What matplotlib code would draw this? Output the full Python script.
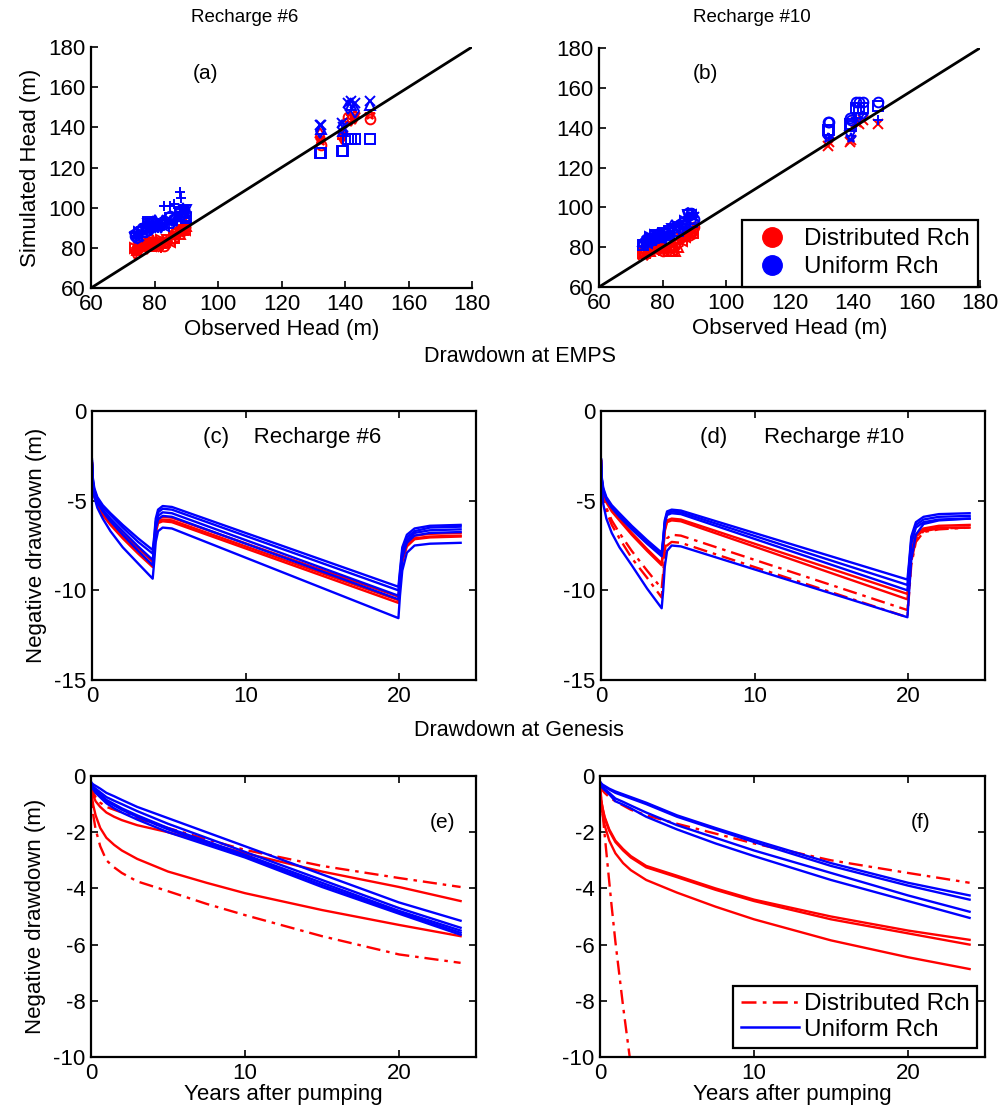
import numpy as np
import matplotlib
matplotlib.use("Agg")
import matplotlib.pyplot as plt
from matplotlib.lines import Line2D

plt.rcParams['font.family'] = ['Liberation Sans', 'DejaVu Sans']
plt.rcParams['font.size'] = 16
plt.rcParams['axes.unicode_minus'] = False

# ---- scatter data (observed vs simulated head) ----
obs_lo = [74, 74.5, 75, 76, 77, 77.5, 78, 78.5, 79, 79.5, 80, 81, 82, 83, 84, 85, 86, 87, 88, 89, 89.5, 90]
obs_hi = [132, 132.5, 139, 139.5, 141, 142, 143, 148]

a_red_lo1 = [79, 80, 79.5, 80, 81, 80.5, 81, 82, 81, 82, 82, 81, 80, 81, 82, 84, 85, 86, 87, 88, 89, 90]
a_red_lo2 = [78, 79, 80, 81, 80, 82, 83, 82, 83, 84, 83, 82, 82, 83, 84, 83, 86, 88, 89, 90, 91, 92]
a_red_lo3 = [80, 79, 81, 82, 82, 81, 83, 81, 84, 83, 81, 83, 84, 82, 83, 85, 87, 87, 88, 89, 90, 91]
a_blue_lo1 = [86, 87, 86, 88, 90, 91, 92, 93, 92, 93, 91, 90, 92, 93, 94, 95, 94, 96, 97, 98, 99, 97]
a_blue_lo2 = [85, 86, 88, 89, 88, 90, 89, 91, 90, 92, 93, 92, 90, 91, 93, 92, 95, 94, 96, 100, 98, 95]
a_blue_lo3 = [87, 85, 87, 90, 91, 89, 93, 90, 91, 90, 92, 93, 91, 94, 92, 96, 93, 95, 98, 97, 96, 99]
a_plus_obs = [83, 85, 86, 88, 88.5]
a_plus_sim = [101, 101, 102, 108, 105]
a_red_hi1 = [134, 131, 135, 136, 145, 144, 146, 144]
a_red_hi2 = [136, 133, 134, 137, 143, 146, 145, 146]
a_blue_hi1 = [141, 141, 142, 140, 152, 153, 152, 153]
a_blue_hi2 = [138, 139, 140, 138, 150, 151, 148, 151]
a_blue_hi3 = [127, 127, 128, 128, 134, 134, 134, 134]

b_red_lo1 = [76, 77, 77, 78, 78, 79, 79, 80, 79, 79, 78, 78, 79, 78, 79, 80, 84, 85, 86, 87, 88, 89]
b_red_lo2 = [78, 77, 79, 79, 80, 80, 80, 81, 80, 80, 80, 79, 80, 79, 80, 82, 85, 86, 88, 88, 87, 88]
b_red_lo3 = [77, 78, 78, 77, 79, 78, 81, 79, 78, 80, 79, 80, 78, 80, 78, 81, 83, 84, 87, 86, 89, 90]
b_blue_lo1 = [82, 82, 83, 84, 84, 85, 86, 86, 85, 86, 85, 84, 86, 88, 89, 88, 90, 92, 96, 96, 95, 92]
b_blue_lo2 = [81, 83, 84, 83, 85, 86, 84, 87, 86, 85, 86, 87, 88, 90, 88, 90, 91, 93, 97, 94, 97, 94]
b_blue_lo3 = [83, 81, 82, 85, 83, 84, 85, 85, 87, 84, 87, 86, 87, 89, 90, 89, 92, 91, 95, 97, 96, 95]
b_red_hi = [131, 133, 133, 134, 143, 142, 144, 142]
b_blue_star = [135, 135, 136, 135, 145, 145, 146, 144]
b_blue_sq = [139, 139, 142, 141, 150, 150, 150, 151]
b_blue_o = [143, 143, 145, 144, 153, 153, 153, 153]

# ---- drawdown at EMPS ----
tk = [0, 0.05, 0.15, 0.35, 0.7, 1.2, 2, 3, 3.95, 4.05, 4.15, 4.3, 4.6, 5.2,
      19.95, 20.05, 20.2, 20.5, 21, 22, 24]
c_blue = [
    [-2.7, -3.7, -4.3, -4.8, -5.25, -5.7, -6.35, -7.1, -7.75, -7.0, -6.0, -5.5, -5.3, -5.35, -9.8, -8.9, -7.6, -6.9, -6.55, -6.4, -6.35],
    [-2.8, -3.8, -4.4, -4.9, -5.35, -5.8, -6.5, -7.3, -7.95, -7.2, -6.2, -5.65, -5.45, -5.5, -10.0, -9.1, -7.8, -7.05, -6.7, -6.5, -6.45],
    [-2.9, -3.9, -4.5, -5.0, -5.5, -6.0, -6.7, -7.55, -8.3, -7.5, -6.4, -5.85, -5.65, -5.7, -10.3, -9.3, -8.0, -7.2, -6.8, -6.65, -6.6],
    [-3.0, -4.0, -4.6, -5.1, -5.6, -6.15, -6.9, -7.8, -8.6, -7.7, -6.6, -6.05, -5.85, -5.9, -10.5, -9.5, -8.2, -7.35, -6.95, -6.8, -6.75],
    [-3.0, -4.1, -4.8, -5.4, -6.0, -6.7, -7.6, -8.5, -9.35, -8.4, -7.3, -6.7, -6.5, -6.55, -11.55, -10.3, -8.9, -7.9, -7.5, -7.4, -7.35],
]
c_red = [
    [-2.9, -4.0, -4.6, -5.1, -5.6, -6.1, -6.85, -7.65, -8.4, -7.6, -6.5, -6.0, -5.9, -5.95, -10.35, -9.4, -8.1, -7.3, -6.95, -6.85, -6.8],
    [-2.9, -4.05, -4.7, -5.2, -5.7, -6.25, -7.0, -7.85, -8.6, -7.8, -6.7, -6.15, -6.05, -6.1, -10.55, -9.6, -8.3, -7.45, -7.1, -7.0, -6.95],
    [-3.0, -4.1, -4.75, -5.25, -5.8, -6.35, -7.1, -7.95, -8.7, -7.9, -6.8, -6.25, -6.15, -6.2, -10.7, -9.7, -8.4, -7.55, -7.15, -7.05, -7.0],
]
d_blue = [
    [-2.7, -3.7, -4.3, -4.8, -5.25, -5.7, -6.4, -7.2, -7.9, -7.1, -6.1, -5.6, -5.5, -5.55, -9.4, -8.5, -7.0, -6.2, -5.9, -5.75, -5.7],
    [-2.7, -3.8, -4.4, -4.9, -5.35, -5.8, -6.5, -7.3, -8.0, -7.2, -6.2, -5.7, -5.6, -5.65, -9.7, -8.7, -7.2, -6.35, -6.05, -5.9, -5.85],
    [-2.8, -3.8, -4.45, -4.95, -5.4, -5.9, -6.6, -7.4, -8.1, -7.3, -6.3, -5.8, -5.7, -5.75, -10.0, -8.9, -7.4, -6.5, -6.2, -6.05, -6.0],
    [-2.7, -4.3, -5.2, -6.0, -6.8, -7.6, -8.6, -9.9, -11.0, -10.0, -8.7, -7.8, -7.5, -7.55, -11.5, -10.2, -8.3, -6.9, -6.3, -6.1, -6.0],
]
d_red = [
    [-2.8, -3.9, -4.5, -5.0, -5.5, -6.0, -6.8, -7.7, -8.5, -7.7, -6.6, -6.1, -6.0, -6.05, -10.2, -9.3, -7.8, -6.9, -6.55, -6.4, -6.35],
    [-2.8, -3.95, -4.55, -5.1, -5.6, -6.1, -6.9, -7.8, -8.6, -7.8, -6.7, -6.2, -6.1, -6.15, -10.5, -9.5, -8.0, -7.0, -6.65, -6.5, -6.5],
]
d_red_dd = [
    [-2.7, -4.0, -4.7, -5.4, -6.1, -6.8, -7.8, -8.9, -9.9, -9.0, -7.8, -7.1, -6.9, -6.95, -11.1, -10.0, -8.4, -7.2, -6.7, -6.55, -6.5],
    [-2.7, -4.1, -4.85, -5.6, -6.35, -7.1, -8.2, -9.3, -10.4, -9.4, -8.2, -7.5, -7.3, -7.35, -11.5, -10.3, -8.6, -7.3, -6.75, -6.6, -6.5],
]

# ---- drawdown at Genesis ----
te = [0, 0.05, 0.15, 0.3, 0.6, 1, 1.5, 2, 3, 5, 7.5, 10, 15, 20, 24]
e_red = [
    [-0.3, -0.7, -1.05, -1.4, -1.85, -2.2, -2.45, -2.65, -2.95, -3.4, -3.8, -4.17, -4.77, -5.3, -5.7],
    [-0.3, -0.5, -0.7, -0.9, -1.1, -1.3, -1.45, -1.57, -1.75, -2.0, -2.38, -2.75, -3.4, -3.95, -4.45],
]
e_red_dd = [
    [-0.3, -0.9, -1.4, -1.9, -2.5, -3.0, -3.25, -3.45, -3.75, -4.1, -4.55, -4.95, -5.7, -6.35, -6.65],
    [-0.3, -0.45, -0.6, -0.75, -0.95, -1.1, -1.2, -1.3, -1.5, -1.85, -2.25, -2.63, -3.2, -3.63, -3.95],
]
e_blue = [
    [-0.2, -0.25, -0.3, -0.35, -0.45, -0.6, -0.72, -0.85, -1.1, -1.5, -2.0, -2.5, -3.5, -4.5, -5.15],
    [-0.25, -0.3, -0.38, -0.45, -0.58, -0.75, -0.88, -1.0, -1.25, -1.7, -2.2, -2.7, -3.7, -4.7, -5.4],
    [-0.25, -0.32, -0.42, -0.5, -0.65, -0.85, -1.0, -1.15, -1.4, -1.85, -2.32, -2.8, -3.8, -4.8, -5.5],
    [-0.3, -0.36, -0.45, -0.55, -0.7, -0.9, -1.05, -1.2, -1.45, -1.9, -2.38, -2.85, -3.88, -4.85, -5.58],
    [-0.3, -0.38, -0.48, -0.6, -0.76, -0.97, -1.15, -1.3, -1.55, -2.0, -2.45, -2.9, -3.95, -4.9, -5.65],
]
f_red = [
    [-0.3, -0.75, -1.1, -1.45, -1.9, -2.3, -2.6, -2.85, -3.2, -3.55, -4.0, -4.4, -5.0, -5.5, -5.83],
    [-0.3, -0.75, -1.1, -1.5, -1.95, -2.35, -2.65, -2.9, -3.25, -3.6, -4.05, -4.45, -5.1, -5.6, -6.0],
    [-0.3, -0.85, -1.3, -1.75, -2.3, -2.75, -3.1, -3.35, -3.7, -4.15, -4.65, -5.1, -5.85, -6.45, -6.87],
]
f_red_dd_up = [-0.3, -0.4, -0.5, -0.6, -0.75, -0.9, -1.05, -1.2, -1.4, -1.7, -2.05, -2.4, -3.0, -3.45, -3.8]
tf_plunge = [0, 0.1, 0.25, 0.5, 0.75, 1, 1.5, 2.0]
f_red_dd_lo = [-0.3, -0.9, -1.8, -3.2, -4.6, -5.9, -8.2, -10.3]
f_blue = [
    [-0.2, -0.24, -0.3, -0.35, -0.45, -0.55, -0.65, -0.75, -0.95, -1.4, -1.85, -2.28, -3.1, -3.8, -4.25],
    [-0.2, -0.25, -0.32, -0.38, -0.48, -0.6, -0.7, -0.8, -1.0, -1.45, -1.9, -2.35, -3.2, -3.9, -4.4],
    [-0.25, -0.3, -0.38, -0.46, -0.6, -0.8, -0.92, -1.05, -1.3, -1.75, -2.2, -2.65, -3.45, -4.25, -4.83],
    [-0.3, -0.35, -0.42, -0.5, -0.65, -0.9, -1.02, -1.15, -1.45, -1.9, -2.4, -2.85, -3.7, -4.45, -5.05],
]

RED = '#ff0000'
BLUE = '#0000ff'
DD = (6, 2.5, 1.5, 2.5)
W, H = 1005.0, 1118.0
lo_marks = ['+', 'o', '*', 'x', 's', 'd', '^', 'v', '<', '>', 'p', 'h']


def add_ax(fig, l, r, t, b):
    return fig.add_axes([l / W, (H - b) / H, (r - l) / W, (b - t) / H])


def pts(ax, xs, ys, color, shift=0, marks=lo_marks):
    for i, (x, y) in enumerate(zip(xs, ys)):
        m = marks[(i + shift) % len(marks)]
        ax.plot(x, y, m, color=color, ms=7, mew=1.4, mfc='none', linestyle='none')


def style_scatter(ax):
    ax.set_xlim(60, 180)
    ax.set_ylim(60, 180)
    ax.set_xticks(range(60, 181, 20))
    ax.set_yticks(range(60, 181, 20))
    ax.spines['top'].set_visible(False)
    ax.spines['right'].set_visible(False)
    for s in ['left', 'bottom']:
        ax.spines[s].set_linewidth(1.6)
    ax.tick_params(direction='in', length=5, width=1.2, labelsize=16, pad=4)
    ax.plot([60, 180], [60, 180], color='k', lw=2)


def style_dd(ax, ymin, step):
    ax.set_xlim(0, 25)
    ax.set_ylim(ymin, 0)
    ax.set_xticks([0, 10, 20])
    ax.set_yticks(np.arange(ymin, 0.1, step))
    for s in ax.spines.values():
        s.set_linewidth(1.6)
    ax.tick_params(direction='in', length=5, width=1.2, labelsize=16, pad=4,
                   top=True, right=True)


fig = plt.figure(figsize=(W / 100, H / 100), dpi=100)

# (a)
ax = add_ax(fig, 91, 472, 47, 288)
pts(ax, obs_lo, a_red_lo1, RED, 0)
pts(ax, obs_lo, a_red_lo2, RED, 5)
pts(ax, obs_lo, a_red_lo3, RED, 9)
pts(ax, obs_lo, a_blue_lo1, BLUE, 1)
pts(ax, obs_lo, a_blue_lo2, BLUE, 7)
pts(ax, obs_lo, a_blue_lo3, BLUE, 10)
pts(ax, a_plus_obs, a_plus_sim, BLUE, 0, ['+'])
pts(ax, obs_hi, a_red_hi1, RED, 0, ['*', 'o', 'd'])
pts(ax, obs_hi, a_red_hi2, RED, 0, ['d', '*', '+'])
pts(ax, obs_hi, a_blue_hi1, BLUE, 0, ['x'])
pts(ax, obs_hi, a_blue_hi2, BLUE, 0, ['d', '^'])
pts(ax, obs_hi, a_blue_hi3, BLUE, 0, ['s'])
style_scatter(ax)
ax.text(96, 167, '(a)', fontsize=15, ha='center', va='center')
ax.set_xlabel('Observed Head (m)', fontsize=16, labelpad=3)
ax.set_ylabel('Simulated Head (m)', fontsize=16, labelpad=5)

# (b)
ax = add_ax(fig, 599, 980, 48, 287)
pts(ax, obs_lo, b_red_lo1, RED, 3)
pts(ax, obs_lo, b_red_lo2, RED, 8)
pts(ax, obs_lo, b_red_lo3, RED, 4)
pts(ax, obs_lo, b_blue_lo1, BLUE, 1)
pts(ax, obs_lo, b_blue_lo2, BLUE, 4)
pts(ax, obs_lo, b_blue_lo3, BLUE, 6)
pts(ax, obs_hi, b_red_hi, RED, 0, ['x'])
pts(ax, obs_hi, b_blue_star, BLUE, 0, ['*', '+', 'v'])
pts(ax, obs_hi, b_blue_sq, BLUE, 0, ['s'])
pts(ax, obs_hi, b_blue_o, BLUE, 0, ['o'])
style_scatter(ax)
ax.text(93.5, 167, '(b)', fontsize=15, ha='center', va='center')
ax.set_xlabel('Observed Head (m)', fontsize=16, labelpad=3)
h1 = Line2D([], [], marker='o', color=RED, ms=14, ls='none')
h2 = Line2D([], [], marker='o', color=BLUE, ms=14, ls='none')
leg = ax.legend([h1, h2], ['Distributed Rch', 'Uniform Rch'], loc='lower right',
                bbox_to_anchor=(0.995, 0.0), borderaxespad=0, fancybox=False,
                framealpha=1, edgecolor='k', fontsize=17.5, handletextpad=0.4,
                borderpad=0.35, labelspacing=0.25, handlelength=1.8)
leg.get_frame().set_linewidth(1.6)

# (c)
ax = add_ax(fig, 92, 476, 411, 680)
for y in c_red:
    ax.plot(tk, y, color=RED, lw=1.7)
for y in c_blue:
    ax.plot(tk, y, color=BLUE, lw=1.7)
style_dd(ax, -15, 5)
ax.text(13.0, -1.5, '(c)    Recharge #6', fontsize=16, ha='center', va='center')
ax.set_ylabel('Negative drawdown (m)', fontsize=16, labelpad=5)

# (d)
ax = add_ax(fig, 601, 985, 411, 680)
for y in d_red:
    ax.plot(tk, y, color=RED, lw=1.7)
for y in d_red_dd:
    ax.plot(tk, y, color=RED, lw=1.7, dashes=DD)
for y in d_blue:
    ax.plot(tk, y, color=BLUE, lw=1.7)
style_dd(ax, -15, 5)
ax.text(13.1, -1.5, '(d)      Recharge #10', fontsize=16, ha='center', va='center')

# (e)
ax = add_ax(fig, 91, 476, 776, 1057)
for y in e_red:
    ax.plot(te, y, color=RED, lw=1.7)
for y in e_red_dd:
    ax.plot(te, y, color=RED, lw=1.7, dashes=DD)
for y in e_blue:
    ax.plot(te, y, color=BLUE, lw=1.7)
style_dd(ax, -10, 2)
ax.text(22.8, -1.67, '(e)', fontsize=15, ha='center', va='center')
ax.set_ylabel('Negative drawdown (m)', fontsize=16, labelpad=5)
ax.set_xlabel('Years after pumping', fontsize=16, labelpad=0)

# (f)
ax = add_ax(fig, 600, 985, 776, 1057)
for y in f_red:
    ax.plot(te, y, color=RED, lw=1.7)
ax.plot(te, f_red_dd_up, color=RED, lw=1.7, dashes=DD)
ax.plot(tf_plunge, f_red_dd_lo, color=RED, lw=1.7, dashes=DD)
for y in f_blue:
    ax.plot(te, y, color=BLUE, lw=1.7)
style_dd(ax, -10, 2)
ax.text(20.8, -1.67, '(f)', fontsize=15, ha='center', va='center')
ax.set_xlabel('Years after pumping', fontsize=16, labelpad=0)
h1 = Line2D([], [], color=RED, lw=1.8, dashes=DD)
h2 = Line2D([], [], color=BLUE, lw=1.8)
leg = ax.legend([h1, h2], ['Distributed Rch', 'Uniform Rch'], loc='lower right',
                bbox_to_anchor=(0.979, 0.032), borderaxespad=0, fancybox=False,
                framealpha=1, edgecolor='k', fontsize=17.5, handletextpad=0.2,
                borderpad=0.3, labelspacing=0.15, handlelength=2.4)
leg.get_frame().set_linewidth(1.6)

# titles
fig.text(245 / W, 1 - 18 / H, 'Recharge #6', fontsize=13.5, ha='center', va='center')
fig.text(752 / W, 1 - 18 / H, 'Recharge #10', fontsize=13.5, ha='center', va='center')
fig.text(520 / W, 1 - 356 / H, 'Drawdown at EMPS', fontsize=15.5, ha='center', va='center')
fig.text(519 / W, 1 - 731 / H, 'Drawdown at Genesis', fontsize=15.5, ha='center', va='center')

fig.savefig('out.png', dpi=100)
